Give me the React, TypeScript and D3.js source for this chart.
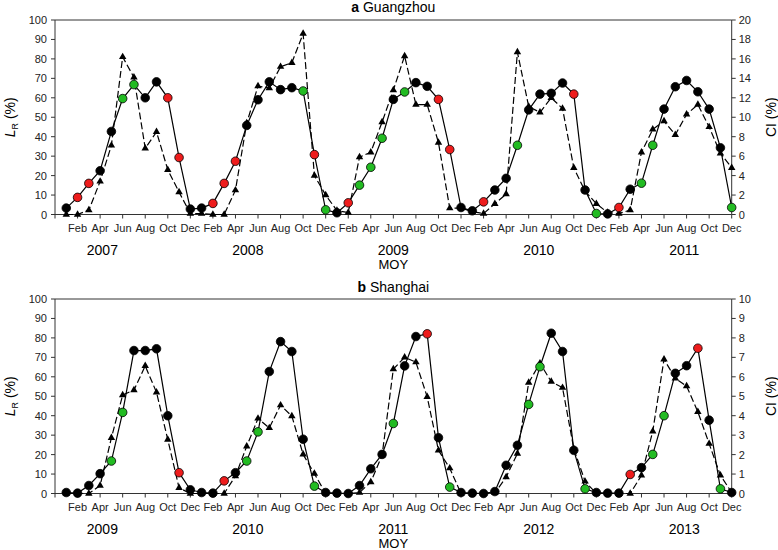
import React from "react";
import * as d3 from "d3";

const W = 778;
const H = 550;

const monthNames = ["Jan", "Feb", "Mar", "Apr", "May", "Jun", "Jul", "Aug", "Sep", "Oct", "Nov", "Dec"];

// Guangzhou (2007-2011)
const gzYears = ["2007", "2008", "2009", "2010", "2011"];
const gzLR = [
  3.3, 8.8, 16, 22.5, 42.7, 59.6, 66.8, 60, 68.2, 60, 29.3, 2.8,
  3.3, 5.7, 16, 27.4, 45.8, 59, 68.2, 64.2, 65.2, 63.5, 30.8, 2.4,
  0.9, 6, 15.1, 24.3, 39.2, 59.2, 63, 67.8, 65.9, 59.2, 33.4, 3.6,
  1.9, 6.5, 12.6, 18.6, 35.6, 53.8, 61.9, 62.3, 67.6, 61.9, 12.6, 0.5,
  0.3, 3.6, 13, 16.1, 35.6, 54.2, 65.7, 68.9, 63.1, 54.2, 34.3, 3.6,
];
const gzCI = [
  0, 0, 0.45, 3.4, 7.1, 16.2, 14.1, 6.8, 8.5, 4.6, 2.3, 0.1,
  0.1, 0, 0, 2.5, 9.4, 13.2, 13.0, 15.2, 15.6, 18.6, 4.0, 2.0,
  0.4, 0.2, 5.9, 6.4, 9.5, 12.8, 16.3, 11.3, 11.3, 7.4, 0.65, 0.65,
  0.3, 0.1, 1.1, 2.1, 16.7, 11.1, 10.5, 12.0, 10.9, 4.8, 2.4, 1.1,
  0.2, 0.1, 0.45, 6.4, 8.75, 9.6, 8.2, 10.3, 11.3, 9.0, 6.3, 4.8,
];
const gzColor = [
  "k", "r", "r", "k", "k", "g", "g", "k", "k", "r", "r", "k",
  "k", "r", "r", "r", "k", "k", "k", "k", "k", "g", "r", "g",
  "k", "r", "g", "g", "g", "k", "g", "k", "k", "r", "r", "k",
  "k", "r", "k", "k", "g", "k", "k", "k", "k", "r", "k", "g",
  "k", "r", "k", "g", "g", "k", "k", "k", "k", "k", "k", "g",
];

// Shanghai (2009-2013)
const shYears = ["2009", "2010", "2011", "2012", "2013"];
const shLR = [
  0.5, 0.2, 4.1, 10.2, 16.7, 41.7, 73.5, 73.5, 74.4, 40, 10.7, 1.9,
  0.5, 0.2, 6.5, 10.7, 16.7, 31.7, 62.7, 78.1, 73, 27.9, 3.8, 0.5,
  0.2, 0, 4.1, 12.7, 20.1, 36, 65.6, 80.7, 82.1, 28.7, 3.3, 0.5,
  0.2, 0, 1, 14.5, 24.8, 45.8, 65.2, 82.4, 73, 22.2, 2.4, 0.5,
  0.2, 0.2, 9.8, 13.3, 20.1, 40, 61.8, 65.7, 74.7, 37.7, 2.4, 0.5,
];
const shCI = [
  0, 0, 0, 0.41, 2.86, 5.06, 5.32, 6.56, 5.2, 2.77, 0.29, 0,
  0, 0, 0, 0.9, 2.43, 3.86, 3.37, 4.54, 3.98, 2.01, 1.02, 0,
  0, 0, 0.05, 0.59, 1.96, 6.4, 7.0, 6.75, 4.97, 2.22, 1.3, 0,
  0, 0, 0.03, 0.84, 2.05, 5.7, 6.7, 5.75, 5.44, 2.3, 0.62, 0,
  0, 0, 0, 0.93, 3.2, 6.9, 5.92, 5.52, 4.2, 2.56, 0.93, 0.05,
];
const shColor = [
  "k", "k", "k", "k", "g", "g", "k", "k", "k", "k", "r", "k",
  "k", "k", "r", "k", "g", "g", "k", "k", "k", "k", "g", "k",
  "k", "k", "k", "k", "k", "g", "k", "k", "r", "k", "g", "k",
  "k", "k", "k", "k", "k", "g", "g", "k", "k", "k", "g", "k",
  "k", "k", "r", "k", "g", "g", "k", "k", "r", "k", "g", "k",
];

// year label positions in month-index units
const yearLabelPos = [4.2, 17.1, 30, 42.9, 55.8];
const lrTicks = d3.range(0, 101, 10);

const FILL: Record<string, string> = { k: "#000000", r: "#ee1c1c", g: "#22bb22" };
const FONT = "'Liberation Sans', Arial, Helvetica, sans-serif";

const X0 = 55;
const X1 = 731.7;

type PanelProps = {
  letter: string;
  name: string;
  years: string[];
  lr: number[];
  ci: number[];
  colors: string[];
  ciMax: number;
  ciStep: number;
  top: number;
  bottom: number;
  titleY: number;
};

function Panel(p: PanelProps) {
  const x = d3.scaleLinear().domain([0, 60]).range([X0, X1]);
  const yL = d3.scaleLinear().domain([0, 100]).range([p.bottom, p.top]);
  const yR = d3.scaleLinear().domain([0, p.ciMax]).range([p.bottom, p.top]);
  const idx = d3.range(1, 61);
  const lrLine = d3
    .line<number>()
    .x((i) => x(i))
    .y((i) => yL(p.lr[i - 1]));
  const ciLine = d3
    .line<number>()
    .x((i) => x(i))
    .y((i) => yR(p.ci[i - 1]));
  const tri = d3.symbol().type(d3.symbolTriangle).size(24)() as string;
  const ciTicks = d3.range(0, p.ciMax + 0.001, p.ciStep);
  const xTicks = d3.range(0, 61, 2);
  const midY = (p.top + p.bottom) / 2;

  return (
    <g>
      <text x={x(30)} y={p.titleY} textAnchor="middle" fontSize={14} fontFamily={FONT} fill="#000">
        <tspan fontWeight="bold">{p.letter}</tspan>
        <tspan>{" " + p.name}</tspan>
      </text>
      {/* frame */}
      <line x1={X0} x2={X1} y1={p.top} y2={p.top} stroke="#333" strokeWidth={1} />
      <line x1={X0} x2={X1} y1={p.bottom} y2={p.bottom} stroke="#333" strokeWidth={1} />
      <line x1={X0} x2={X0} y1={p.top} y2={p.bottom} stroke="#333" strokeWidth={1} />
      <line x1={X1} x2={X1} y1={p.top} y2={p.bottom} stroke="#333" strokeWidth={1} />
      {/* left axis */}
      {lrTicks.map((t) => (
        <g key={"l" + t}>
          <line x1={X0 - 4} x2={X0} y1={yL(t)} y2={yL(t)} stroke="#333" />
          <text x={X0 - 8} y={yL(t) + 4} textAnchor="end" fontSize={11} fontFamily={FONT} fill="#222">
            {t}
          </text>
        </g>
      ))}
      {/* right axis */}
      {ciTicks.map((t) => (
        <g key={"r" + t}>
          <line x1={X1} x2={X1 + 4} y1={yR(t)} y2={yR(t)} stroke="#333" />
          <text x={X1 + 7} y={yR(t) + 4} textAnchor="start" fontSize={11} fontFamily={FONT} fill="#222">
            {t}
          </text>
        </g>
      ))}
      {/* bottom axis */}
      {xTicks.map((t) => (
        <g key={"x" + t}>
          <line x1={x(t)} x2={x(t)} y1={p.bottom} y2={p.bottom + 4} stroke="#333" />
          {t > 0 && (
            <text x={x(t)} y={p.bottom + 17} textAnchor="middle" fontSize={11} fontFamily={FONT} fill="#222">
              {monthNames[(t - 1) % 12]}
            </text>
          )}
        </g>
      ))}
      {p.years.map((yr, k) => (
        <text key={yr} x={x(yearLabelPos[k])} y={p.bottom + 40} textAnchor="middle" fontSize={14} fontFamily={FONT} fill="#000">
          {yr}
        </text>
      ))}
      <text x={x(30)} y={p.bottom + 54} textAnchor="middle" fontSize={13} fontFamily={FONT} fill="#000">
        MOY
      </text>
      {/* axis titles */}
      <text transform={`translate(15,${midY}) rotate(-90)`} textAnchor="middle" fontSize={14} fontFamily={FONT} fill="#000">
        <tspan fontStyle="italic">L</tspan>
        <tspan fontSize={9} dy={3}>R</tspan>
        <tspan dy={-3}>{" (%)"}</tspan>
      </text>
      <text transform={`translate(776,${midY}) rotate(-90)`} textAnchor="middle" fontSize={14} fontFamily={FONT} fill="#000">
        CI (%)
      </text>
      {/* CI dashed line with triangles */}
      <path d={ciLine(idx) || ""} fill="none" stroke="#000" strokeWidth={1.2} strokeDasharray="7,3" />
      {idx.map((i) => (
        <path key={"t" + i} d={tri} transform={`translate(${x(i)},${yR(p.ci[i - 1])})`} fill="#000" />
      ))}
      {/* LR solid line with circles */}
      <path d={lrLine(idx) || ""} fill="none" stroke="#000" strokeWidth={1.2} />
      {idx.map((i) => (
        <circle key={"c" + i} cx={x(i)} cy={yL(p.lr[i - 1])} r={4.3} fill={FILL[p.colors[i - 1]]} stroke="#000" strokeWidth={0.8} />
      ))}
    </g>
  );
}

export default function App() {
  return (
    <svg width={W} height={H} style={{ position: "absolute", left: 0, top: 0, background: "#fff" }}>
      <rect width={W} height={H} fill="#fff" />
      <Panel letter="a" name="Guangzhou" years={gzYears} lr={gzLR} ci={gzCI} colors={gzColor} ciMax={20} ciStep={2} top={20} bottom={214.5} titleY={12} />
      <Panel letter="b" name="Shanghai" years={shYears} lr={shLR} ci={shCI} colors={shColor} ciMax={10} ciStep={1} top={299} bottom={493.5} titleY={292} />
    </svg>
  );
}
